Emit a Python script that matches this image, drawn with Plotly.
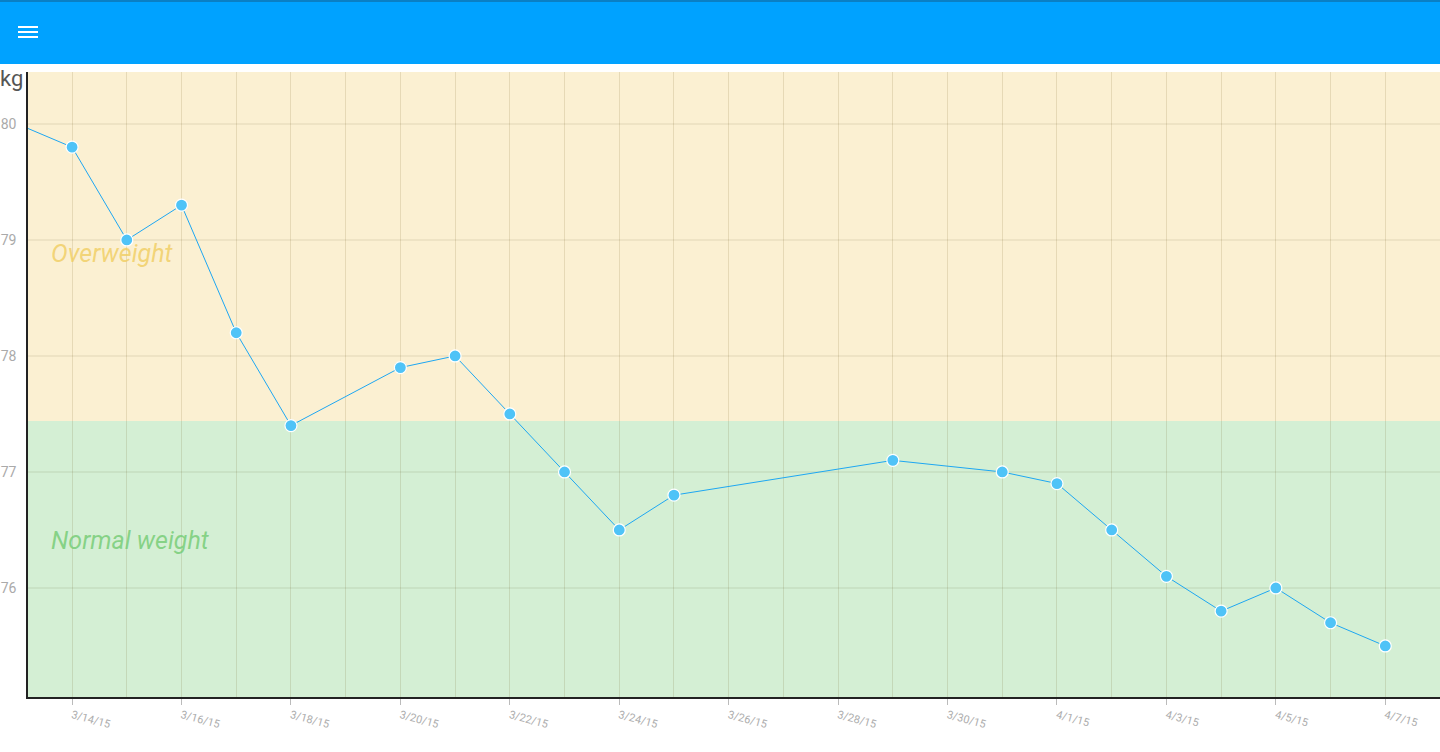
import plotly.graph_objects as go

# ---- data ----
dates = ["2015-03-13", "2015-03-14", "2015-03-15", "2015-03-16", "2015-03-17",
         "2015-03-18", "2015-03-20", "2015-03-21", "2015-03-22", "2015-03-23",
         "2015-03-24", "2015-03-25", "2015-03-29", "2015-03-31", "2015-04-01",
         "2015-04-02", "2015-04-03", "2015-04-04", "2015-04-05", "2015-04-06",
         "2015-04-07"]
weights = [80.0, 79.8, 79.0, 79.3, 78.2, 77.4, 77.9, 78.0, 77.5, 77.0,
           76.5, 76.8, 77.1, 77.0, 76.9, 76.5, 76.1, 75.8, 76.0, 75.7, 75.5]
band_threshold = 77.44
band_labels = ["Overweight", "Normal weight"]
unit_label = "kg"
x_range = ["2015-03-13 04:40", "2015-04-08 00:00"]
y_range = [75.06, 80.448]

W, H = 1440, 752
ML, MR, MT, MB = 28, 0, 72, 55
PW, PH = W - ML - MR, H - MT - MB


def px_x(px):
    return (px - ML) / PW


def px_y(py):
    return (H - MB - py) / PH


fig = go.Figure()
fig.add_trace(go.Scatter(
    x=dates, y=weights, mode="lines+markers",
    line=dict(color="#1EA7F2", width=1),
    marker=dict(size=12, color="#4FC3F7", line=dict(color="white", width=1.2)),
    hoverinfo="x+y", showlegend=False,
))

shapes = [
    # bands
    dict(type="rect", xref="paper", yref="y", x0=0, x1=1, y0=band_threshold, y1=y_range[1],
         fillcolor="#FBF0D2", line_width=0, layer="below"),
    dict(type="rect", xref="paper", yref="y", x0=0, x1=1, y0=y_range[0], y1=band_threshold,
         fillcolor="#D4EFD4", line_width=0, layer="below"),
    # app bar
    dict(type="rect", xref="paper", yref="paper", x0=px_x(0), x1=px_x(W), y0=px_y(64), y1=px_y(0),
         fillcolor="#00A2FF", line_width=0, layer="above"),
    dict(type="rect", xref="paper", yref="paper", x0=px_x(0), x1=px_x(W), y0=px_y(2), y1=px_y(0),
         fillcolor="#0A7FC4", line_width=0, layer="above"),
]
for yy in (27, 32, 37):
    shapes.append(dict(type="line", xref="paper", yref="paper",
                       x0=px_x(18), x1=px_x(38), y0=px_y(yy), y1=px_y(yy),
                       line=dict(color="white", width=2), layer="above"))

annotations = [
    dict(text="<i>" + band_labels[0] + "</i>", xref="paper", yref="y", x=px_x(49), y=78.88,
         xanchor="left", yanchor="middle", showarrow=False,
         font=dict(family="Roboto", size=25, color="rgba(240,205,95,0.8)")),
    dict(text="<i>" + band_labels[1] + "</i>", xref="paper", yref="y", x=px_x(49), y=76.41,
         xanchor="left", yanchor="middle", showarrow=False,
         font=dict(family="Roboto", size=25, color="rgba(120,205,120,0.85)")),
    dict(text=unit_label, xref="paper", yref="paper", x=px_x(-2), y=px_y(78),
         xanchor="left", yanchor="middle", showarrow=False,
         font=dict(family="Roboto", size=22, color="#555555")),
]

fig.update_layout(
    width=W, height=H, autosize=False,
    margin=dict(l=ML, r=MR, t=MT, b=MB, pad=0),
    paper_bgcolor="white", plot_bgcolor="white",
    font=dict(family="Roboto", color="#aaaaaa"),
    shapes=shapes, annotations=annotations,
    xaxis=dict(
        type="date", range=x_range, tick0="2015-03-14", dtick=2 * 86400000,
        tickformat="%-m/%-d/%y", tickangle=15,
        tickfont=dict(family="Roboto", size=11, color="#adadad"),
        ticks="outside", ticklen=6, tickcolor="#bbbbbb",
        showgrid=True, gridcolor="rgba(90,60,0,0.13)", gridwidth=1,
        minor=dict(dtick=86400000, tick0="2015-03-14", showgrid=True,
                   gridcolor="rgba(90,60,0,0.13)", gridwidth=1, ticks=""),
        showline=True, linecolor="#222222", linewidth=1.5,
        zeroline=False, fixedrange=True,
    ),
    yaxis=dict(
        range=y_range, dtick=1, tick0=76,
        tickfont=dict(family="Roboto", size=14, color="#aaaaaa"),
        ticks="", ticklabelstandoff=7,
        showgrid=True, gridcolor="rgba(60,40,0,0.065)", gridwidth=1.5,
        showline=True, linecolor="#222222", linewidth=1.5,
        zeroline=False, fixedrange=True,
    ),
)

fig.write_html("out.html", config={"displayModeBar": False},
               post_script="document.body.style.margin='0';document.body.style.overflow='hidden';")
